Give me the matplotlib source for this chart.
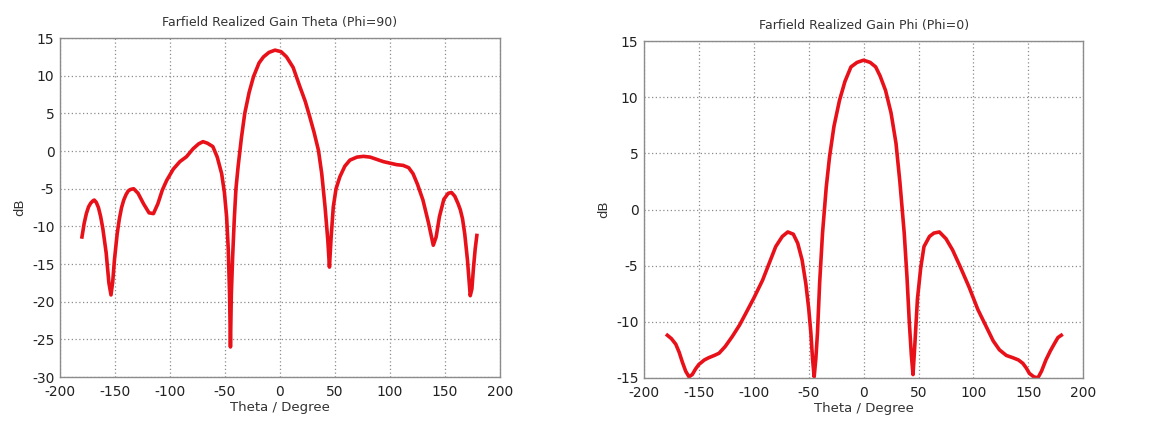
"""Farfield realized gain cuts, CST-style."""

import matplotlib
matplotlib.use("Agg")
import matplotlib.pyplot as plt

# Left cut: Farfield Realized Gain Theta (Phi=90)
theta_left = [-180, -178, -176, -174, -172, -170, -168.8, -167, -165, -163, -161, -158,
              -155.5, -153.6, -152, -150.5, -148, -146, -144, -142, -140, -138, -136, -133,
              -129, -124, -119, -115, -111, -107, -103, -97, -91, -85, -79, -74, -70, -66,
              -61, -57, -53, -50.5, -48.5, -47, -45.8, -45, -44.2, -43, -41.5, -40, -38,
              -35, -32, -28, -24, -19, -15, -10, -4.5, 1, 6, 12, 18, 23, 27, 31, 35, 38,
              41, 43.5, 45, 46.5, 48.5, 51, 54.5, 59, 63.6, 70, 76, 82, 88, 94, 100, 106,
              112, 117, 121, 125, 130, 135, 139.4, 142, 145, 149, 153, 156, 159, 162, 164,
              166, 168, 170.5, 173, 174.5, 176, 177.5, 179]
gain_left = [-11.4, -9.6, -8.3, -7.4, -6.9, -6.6, -6.5, -6.8, -7.5, -8.7, -10.3, -13.5,
             -17.5, -19.1, -17.3, -14.5, -11.0, -9.0, -7.5, -6.5, -5.8, -5.3, -5.1, -5.0,
             -5.6, -7.0, -8.2, -8.3, -7.0, -5.2, -3.9, -2.4, -1.4, -0.75, 0.3, 0.95, 1.25,
             1.05, 0.6, -0.8, -3.0, -5.5, -8.7, -13.0, -19.0, -26.0, -19.0, -14.0, -9.0,
             -5.0, -2.0, 1.8, 5.0, 7.8, 9.9, 11.7, 12.5, 13.1, 13.4, 13.2, 12.5, 11.1, 8.6,
             6.6, 4.6, 2.5, 0.1, -3.0, -7.4, -11.8, -15.4, -11.5, -7.4, -5.0, -3.4, -2.0,
             -1.2, -0.8, -0.7, -0.8, -1.1, -1.4, -1.6, -1.8, -1.9, -2.2, -3.0, -4.4, -6.5,
             -9.5, -12.5, -11.4, -8.7, -6.4, -5.6, -5.5, -6.0, -7.0, -7.8, -9.0, -11.0,
             -14.5, -19.2, -18.3, -15.4, -13.0, -11.2]

# Right cut: Farfield Realized Gain Phi (Phi=0)
theta_right = [-178.7, -175, -171, -168, -165, -162, -159, -156, -153, -150, -145, -141,
               -136, -131.6, -126, -119.5, -113, -107, -100, -92, -86, -80, -74, -69, -64,
               -60, -56, -52.6, -50, -48, -46.5, -45, -43.5, -42, -40, -37.4, -34, -31, -27,
               -22, -17, -11.5, -6, 0, 6, 11, 15, 20, 25, 29.5, 33, 37, 39.5, 41.6, 43.5,
               45, 46.8, 49, 52, 55, 60, 64, 69, 75, 81, 88, 96, 104, 111.5, 118, 123.7,
               130, 135.9, 141, 145, 148, 151, 155, 158.7, 162, 166, 170, 174, 177, 180]
gain_right = [-11.2, -11.5, -12.0, -12.7, -13.6, -14.4, -14.9, -14.7, -14.2, -13.8, -13.4,
              -13.2, -13.0, -12.8, -12.2, -11.3, -10.3, -9.2, -7.9, -6.3, -4.8, -3.3, -2.4,
              -2.0, -2.2, -3.0, -4.5, -6.6, -8.8, -11.0, -13.3, -14.9, -13.3, -11.0, -6.5,
              -2.1, 2.0, 4.7, 7.4, 9.7, 11.4, 12.7, 13.1, 13.3, 13.1, 12.7, 11.9, 10.6, 8.6,
              5.9, 2.5, -2.1, -6.0, -10.0, -13.0, -14.7, -11.8, -8.0, -5.2, -3.3, -2.4, -2.1,
              -2.0, -2.6, -3.6, -5.1, -6.9, -8.9, -10.4, -11.7, -12.5, -13.0, -13.2, -13.4,
              -13.7, -14.1, -14.6, -14.9, -15.0, -14.4, -13.4, -12.6, -11.9, -11.4, -11.2]

titles = ["Farfield Realized Gain Theta (Phi=90)", "Farfield Realized Gain Phi (Phi=0)"]
x_ticks = [-200, -150, -100, -50, 0, 50, 100, 150, 200]
y_ticks_left = [-30, -25, -20, -15, -10, -5, 0, 5, 10, 15]
y_ticks_right = [-15, -10, -5, 0, 5, 10, 15]

plt.rcParams["font.family"] = ["DejaVu Sans"]
plt.rcParams["axes.unicode_minus"] = False

fig = plt.figure(figsize=(11.53, 4.28), dpi=100, facecolor="white")
ax_l = fig.add_axes([0.052, 0.119, 0.3816, 0.792])
ax_r = fig.add_axes([0.5585, 0.117, 0.381, 0.787])


def style(ax, title, yticks):
    ax.set_xlim(-200, 200)
    ax.set_ylim(yticks[0], yticks[-1])
    ax.set_xticks(x_ticks)
    ax.set_yticks(yticks)
    ax.grid(True, color="#8c8c8c", linestyle=(0, (1, 2)), linewidth=0.9)
    ax.tick_params(axis="x", length=0, labelsize=10, pad=6, colors="#222222")
    ax.tick_params(axis="y", length=0, labelsize=10, pad=4, colors="#222222")
    for sp in ax.spines.values():
        sp.set_color("#8c8c8c")
        sp.set_linewidth(1.0)
    ax.set_title(title, fontsize=9, color="#333333", pad=9)
    ax.set_xlabel("Theta / Degree", fontsize=9.5, color="#333333", labelpad=1)
    ax.set_ylabel("dB", fontsize=9.5, color="#333333", labelpad=4)


ax_l.plot(theta_left, gain_left, color="#e8111a", linewidth=2.6, solid_joinstyle="round")
style(ax_l, titles[0], y_ticks_left)

ax_r.plot(theta_right, gain_right, color="#e8111a", linewidth=2.6, solid_joinstyle="round")
style(ax_r, titles[1], y_ticks_right)

fig.savefig("out.png", dpi=100, facecolor="white")
